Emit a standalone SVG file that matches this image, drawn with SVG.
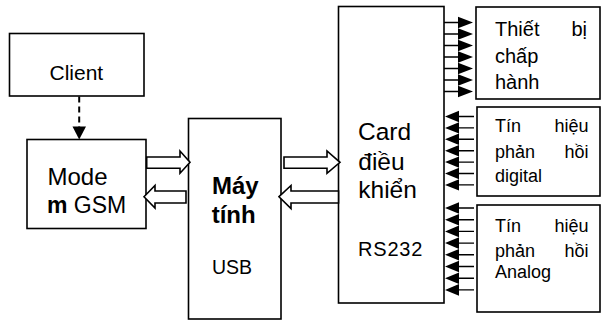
<svg xmlns="http://www.w3.org/2000/svg" width="601" height="322" viewBox="0 0 601 322">
<style>
.box{fill:#fff;stroke:#000;stroke-width:1.6}
.t{font-family:"Liberation Sans",Arial,sans-serif;fill:#000}
.b{font-weight:bold}
.r{text-anchor:end}
.s1{font-size:20px}
.s2{font-size:18px}
.blk{fill:#fff;stroke:#000;stroke-width:1.6;stroke-linejoin:miter}
.ln{stroke:#000;stroke-width:1.4;fill:none}
.hd{fill:#000;stroke:none}
</style>
<rect width="601" height="322" fill="#fff"/>
<g id="client">
<rect class="box" x="9.5" y="33.5" width="134.5" height="62.5"/>
<text class="t" x="49.5" y="80" font-size="21">Client</text>
</g>
<g id="modem">
<rect class="box" x="27" y="139.5" width="119" height="89"/>
<text class="t" x="47.5" y="185" font-size="24">Mode</text>
<text class="t" x="47" y="213" font-size="23"><tspan class="b">m</tspan> GSM</text>
</g>
<g id="pc">
<rect class="box" x="188.5" y="118.5" width="92.5" height="200.5"/>
<text class="t b" x="212" y="194" font-size="24">Máy</text>
<text class="t b" x="211.7" y="223" font-size="24">tính</text>
<text class="t" x="212" y="274" font-size="19.5">USB</text>
</g>
<g id="card">
<rect class="box" x="338.5" y="6.5" width="105.5" height="296.5"/>
<text class="t" x="358" y="140" font-size="24.5">Card</text>
<text class="t" x="358.3" y="170" font-size="24.5">điều</text>
<text class="t" x="358.3" y="198" font-size="24.5">khiển</text>
<text class="t" x="358" y="256" font-size="20" letter-spacing="0.8">RS232</text>
</g>
<g id="actuator">
<rect class="box" x="476" y="7" width="124" height="92"/>
<text class="t s1" x="495" y="36">Thiết</text>
<text class="t s1 r" x="587" y="36">bị</text>
<text class="t s1" x="495" y="63">chấp</text>
<text class="t s1" x="495" y="89">hành</text>
</g>
<g id="digital">
<rect class="box" x="477" y="107" width="123" height="89"/>
<text class="t s2" x="495" y="132">Tín</text>
<text class="t s2 r" x="588.5" y="132">hiệu</text>
<text class="t s2" x="495" y="158">phản</text>
<text class="t s2 r" x="588.5" y="158">hồi</text>
<text class="t s2" x="495" y="182">digital</text>
</g>
<g id="analog">
<rect class="box" x="477" y="205" width="123" height="107"/>
<text class="t s2" x="495" y="232">Tín</text>
<text class="t s2 r" x="588.5" y="232">hiệu</text>
<text class="t s2" x="495" y="257">phản</text>
<text class="t s2 r" x="588.5" y="257">hồi</text>
<text class="t s2" x="495" y="278">Analog</text>
</g>
<g id="connectors">
<line x1="79.2" y1="96.5" x2="79.2" y2="127" stroke="#000" stroke-width="2" stroke-dasharray="6 4"/>
<polygon class="hd" points="72.5,126.5 86,126.5 79.2,139.5"/>
<polygon class="blk" points="146.7,157 180,157 180,151 190,162.3 180,173.3 180,168.3 146.7,168.3"/>
<polygon class="blk" points="144,196.7 155,185.5 155,191 186,191 186,203 155,203 155,208"/>
<polygon class="blk" points="284,157 327,157 327,151 340,162.3 327,173.3 327,168.3 284,168.3"/>
<polygon class="blk" points="279,196.7 291,185.5 291,191 338.5,191 338.5,203 291,203 291,208.5"/>
<g id="out-arrows">
<path class="ln" d="M444 22.5H460M444 34H460M444 45.5H460M444 57H460M444 68.5H460M444 80H460M444 91.5H460"/>
<path class="hd" d="M458 16.8L473 22.5L458 28.2ZM458 28.3L473 34L458 39.7ZM458 39.8L473 45.5L458 51.2ZM458 51.3L473 57L458 62.7ZM458 62.8L473 68.5L458 74.2ZM458 74.3L473 80L458 85.7ZM458 85.8L473 91.5L458 97.2Z"/>
</g>
<g id="dig-arrows">
<path class="ln" d="M456 116.5H474M456 127.9H474M456 139.3H474M456 150.7H474M456 162.1H474M456 173.5H474M456 184.9H474"/>
<path class="hd" d="M459 110.8L445 116.5L459 122.2ZM459 122.2L445 127.9L459 133.6ZM459 133.6L445 139.3L459 145ZM459 145L445 150.7L459 156.4ZM459 156.4L445 162.1L459 167.8ZM459 167.8L445 173.5L459 179.2ZM459 179.2L445 184.9L459 190.6Z"/>
</g>
<g id="ana-arrows">
<path class="ln" d="M456 208H474M456 219.7H474M456 231.4H474M456 243.1H474M456 254.8H474M456 266.5H474M456 278.2H474M456 289.9H474"/>
<path class="hd" d="M459 202.2L445 208L459 213.8ZM459 213.9L445 219.7L459 225.5ZM459 225.6L445 231.4L459 237.2ZM459 237.3L445 243.1L459 248.9ZM459 249L445 254.8L459 260.6ZM459 260.7L445 266.5L459 272.3ZM459 272.4L445 278.2L459 284ZM459 284.1L445 289.9L459 295.7Z"/>
</g>
</g>
</svg>
